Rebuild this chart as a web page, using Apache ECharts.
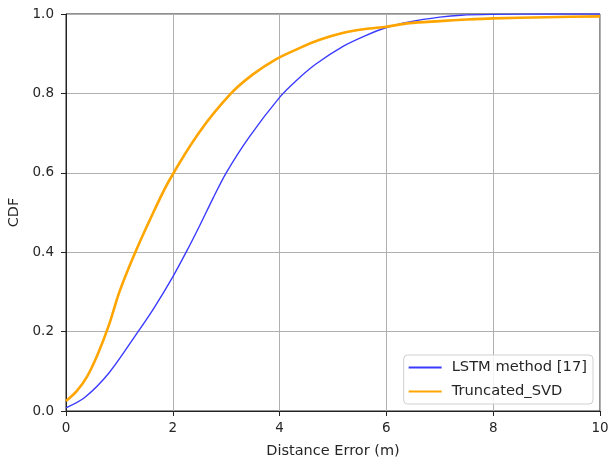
<!DOCTYPE html>
<html>
<head>
<meta charset="utf-8">
<script src="https://cdn.jsdelivr.net/npm/echarts@6/dist/echarts.min.js"></script>
<style>
  html, body { margin: 0; padding: 0; background: #fff; }
  #chart { width: 609px; height: 462px; }
</style>
</head>
<body>
<div id="chart"></div>
<script>
// values
var lstmX = [0, 0.35, 0.8, 1.35, 1.65, 2.0, 2.25, 2.5, 2.75, 3.0, 3.43, 4.0, 4.31, 4.68, 5.18, 5.6, 6.0, 6.43, 7.0, 7.4, 8, 9, 10];
var lstmY = [0.008, 0.034, 0.095, 0.2, 0.26, 0.338, 0.4, 0.466, 0.535, 0.6, 0.69, 0.79, 0.832, 0.874, 0.918, 0.945, 0.966, 0.98, 0.992, 0.997, 0.999, 1.0, 1.0];

var svdX = [0, 0.2, 0.4, 0.6, 0.8, 1.0, 1.25, 1.6, 1.93, 2.5, 3.09, 3.5, 3.93, 4.37, 4.75, 5.18, 5.6, 6.0, 6.43, 7.0, 7.5, 8, 9, 10];
var svdY = [0.025, 0.05, 0.088, 0.145, 0.215, 0.3, 0.385, 0.49, 0.58, 0.703, 0.8, 0.848, 0.886, 0.914, 0.935, 0.952, 0.962, 0.968, 0.977, 0.982, 0.986, 0.989, 0.992, 0.994];

var seriesNames = ['LSTM method [17]', 'Truncated_SVD'];

function pairs(xs, ys) {
    var out = [];
    for (var i = 0; i < xs.length; i++) {
        out.push([xs[i], ys[i]]);
    }
    return out;
}

var chart = echarts.init(document.getElementById('chart'));
var font = 'DejaVu Sans';
var textColor = '#262626';

var option = {
    animation: false,
    backgroundColor: '#ffffff',
    textStyle: { fontFamily: font },
    grid: {
        left: 66, right: 9, top: 14, bottom: 51,
        outerBoundsMode: 'none',
        show: true,
        borderColor: '#222',
        borderWidth: 1
    },
    legend: {
        orient: 'vertical',
        right: 16,
        bottom: 58,
        align: 'left',
        itemWidth: 33,
        itemHeight: 14,
        itemGap: 9,
        padding: [5, 6, 5, 4],
        backgroundColor: 'rgba(255,255,255,0.85)',
        borderColor: '#d0d0d0',
        borderWidth: 1,
        borderRadius: 4,
        itemStyle: { opacity: 0 },
        textStyle: { fontFamily: font, fontSize: 14.7, color: textColor, padding: [0, 0, 0, 5] },
        data: seriesNames
    },
    xAxis: {
        type: 'value',
        min: 0, max: 10, interval: 2,
        name: 'Distance Error (m)',
        nameLocation: 'middle',
        nameGap: 33,
        nameTextStyle: { fontFamily: font, fontSize: 14.5, color: textColor },
        axisLine: { show: true, lineStyle: { color: '#222', width: 1 } },
        axisTick: { show: true, length: 5, lineStyle: { color: '#222' } },
        axisLabel: { fontFamily: font, fontSize: 13.5, color: textColor, margin: 10 },
        splitLine: { show: true, lineStyle: { color: '#b0b0b0', width: 1 } }
    },
    yAxis: {
        type: 'value',
        min: 0, max: 1, interval: 0.2,
        name: 'CDF',
        nameLocation: 'middle',
        nameGap: 42,
        nameTextStyle: { fontFamily: font, fontSize: 14.5, color: textColor },
        axisLine: { show: true, lineStyle: { color: '#222', width: 1 } },
        axisTick: { show: true, length: 5, lineStyle: { color: '#222' } },
        axisLabel: {
            fontFamily: font, fontSize: 13.5, color: textColor, margin: 12,
            formatter: function (v) { return v.toFixed(1); }
        },
        splitLine: { show: true, lineStyle: { color: '#b0b0b0', width: 1 } }
    },
    series: [{
        name: seriesNames[0],
        type: 'line',
        symbol: 'none',
        smooth: 0.3,
        lineStyle: { color: '#3b3bff', width: 1.4 },
        itemStyle: { color: '#3b3bff' },
        data: pairs(lstmX, lstmY),
        z: 3
    }, {
        name: seriesNames[1],
        type: 'line',
        symbol: 'none',
        smooth: 0.3,
        lineStyle: { color: '#ffa500', width: 2.6 },
        itemStyle: { color: '#ffa500' },
        data: pairs(svdX, svdY),
        z: 4
    }]
};

chart.setOption(option);
</script>
</body>
</html>
